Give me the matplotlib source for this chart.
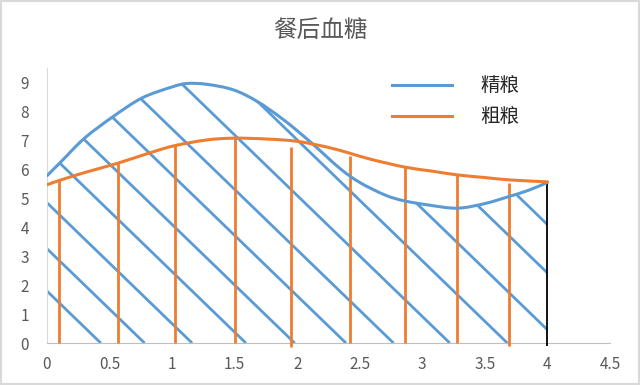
import numpy as np
import matplotlib
matplotlib.use("Agg")
import matplotlib.pyplot as plt
from matplotlib.patches import PathPatch, Rectangle
from matplotlib.path import Path
from matplotlib.lines import Line2D

plt.rcParams["font.family"] = ["Noto Sans CJK SC", "DejaVu Sans"]

# curves
fine_x = [0, 0.12, 0.3, 0.53, 0.76, 1.0, 1.12, 1.28, 1.49, 1.68, 1.89, 2.1,
          2.34, 2.5, 2.7, 2.85, 3.05, 3.28, 3.5, 3.69, 3.85, 4.0]
fine_y = [5.78, 6.3, 7.08, 7.83, 8.47, 8.85, 8.97, 8.94, 8.75, 8.35, 7.72, 6.97,
          6.04, 5.55, 5.12, 4.92, 4.77, 4.66, 4.82, 5.06, 5.28, 5.55]

coarse_x = [0, 0.1, 0.3, 0.57, 0.82, 1.02, 1.28, 1.5, 1.76, 2.0, 2.24, 2.42,
            2.58, 2.86, 3.08, 3.28, 3.5, 3.69, 4.0]
coarse_y = [5.47, 5.62, 5.89, 6.22, 6.57, 6.82, 7.02, 7.08, 7.05, 6.97, 6.77, 6.56,
            6.36, 6.08, 5.94, 5.81, 5.72, 5.64, 5.57]

# blue diagonal shading: x where each stroke meets y=0, and its slope
hatch_b = [0.43, 0.78, 1.16, 1.59, 1.98, 2.39, 2.77, 3.22, 3.68, 4.11, 4.58, 4.98]
hatch_slope = 4.18

# orange vertical strokes
vert_x = [0.10, 0.57, 1.02, 1.50, 1.95, 2.42, 2.86, 3.28, 3.69]
vert_top = [5.62, 6.22, 6.85, 7.08, 6.77, 6.45, 6.08, 5.81, 5.53]
vert_bottom = [0, 0, 0, 0, -0.13, 0, 0, 0, -0.1]

end_x = 4.0

labels = ["精粮", "粗粮"]
xticks = [0, 0.5, 1, 1.5, 2, 2.5, 3, 3.5, 4, 4.5]
xticklabels = ["0", "0.5", "1", "1.5", "2", "2.5", "3", "3.5", "4", "4.5"]
yticks = list(range(10))

BLUE = "#5B9BD5"
ORANGE = "#ED7D31"
GRAY = "#595959"


def smooth_verts(xs, ys):
    # bezier control points through the read points (like a smoothed excel line)
    pts = np.column_stack([xs, ys]).astype(float)
    verts = [pts[0]]
    codes = [Path.MOVETO]
    n = len(pts)
    for i in range(n - 1):
        p0 = pts[i - 1] if i > 0 else pts[i]
        p1 = pts[i]
        p2 = pts[i + 1]
        p3 = pts[i + 2] if i + 2 < n else pts[i + 1]
        verts += [p1 + (p2 - p0) / 6, p2 - (p3 - p1) / 6, p2]
        codes += [Path.CURVE4] * 3
    return verts, codes


fig = plt.figure(figsize=(6.4, 3.85), dpi=100)
ax = fig.add_axes([0.0734, 0.109, 0.8796, 0.714])

# clip region under the blue curve
v, c = smooth_verts(fine_x, fine_y)
v_clip = v + [(fine_x[-1], 0), (fine_x[0], 0), v[0]]
c_clip = c + [Path.LINETO, Path.LINETO, Path.CLOSEPOLY]
clip = PathPatch(Path(v_clip, c_clip), facecolor="none", edgecolor="none")
ax.add_patch(clip)

for b in hatch_b:
    ys = np.array([0, 10.0])
    xs = b - ys / hatch_slope
    ln, = ax.plot(xs, ys, color=BLUE, lw=2.0, solid_capstyle="butt", zorder=2)
    ln.set_clip_path(clip)

ax.vlines(vert_x, vert_bottom, vert_top, color=ORANGE, lw=2.0, zorder=3,
          clip_on=False)

ax.vlines([end_x], [-0.1], [fine_y[-1]], color="black", lw=1.3, zorder=3,
          clip_on=False)

for xs, ys, col, z in [(fine_x, fine_y, BLUE, 4), (coarse_x, coarse_y, ORANGE, 5)]:
    v, c = smooth_verts(xs, ys)
    ax.add_patch(PathPatch(Path(v, c), facecolor="none", edgecolor=col,
                           lw=2.2, zorder=z, capstyle="round"))

ax.set_xlim(0, 4.5)
ax.set_ylim(0, 9.5)
ax.set_xticks(xticks)
ax.set_xticklabels(xticklabels)
ax.set_yticks(yticks)
ax.tick_params(axis="both", length=0, labelsize=11, labelcolor=GRAY)
ax.tick_params(axis="x", pad=9)
ax.tick_params(axis="y", pad=13)

for side in ["top", "right"]:
    ax.spines[side].set_visible(False)
ax.spines["left"].set_color("#d9d9d9")
ax.spines["bottom"].set_color("#bfbfbf")

handles = [Line2D([], [], color=BLUE, lw=2.2), Line2D([], [], color=ORANGE, lw=2.2)]
leg = fig.legend(handles, labels, loc="upper left", bbox_to_anchor=(0.6125, 0.803),
                 frameon=False, fontsize=14, handlelength=3.1,
                 handletextpad=1.45, labelspacing=0.5, borderpad=0,
                 borderaxespad=0)
for t in leg.get_texts():
    t.set_color("#262626")

fig.text(0.5, 0.922, "餐后血糖", ha="center", va="center", fontsize=17,
         color=GRAY)

fig.patches.append(Rectangle((0, 0), 1, 1, transform=fig.transFigure,
                             fill=False, edgecolor="#d9d9d9", lw=3))

fig.savefig("out.png", dpi=100)
